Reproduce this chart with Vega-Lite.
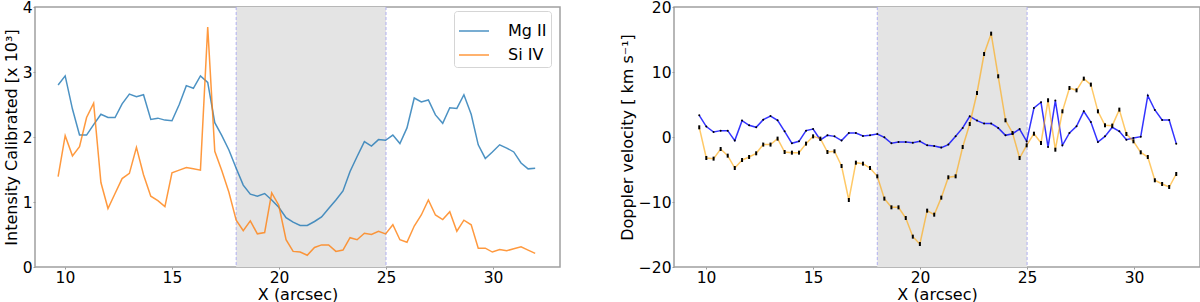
{
  "$schema": "https://vega.github.io/schema/vega-lite/v6.json",
  "padding": {"left": 2, "top": -1, "right": 0, "bottom": 0},
  "background": "white",
  "config": {
    "font": "DejaVu Sans",
    "view": {"stroke": "#a0a0a0", "strokeWidth": 1.5},
    "axis": {
      "domain": false, "grid": false, "tickColor": "#999999", "tickSize": 2,
      "labelFont": "DejaVu Sans", "labelFontSize": 15.5, "labelColor": "black", "labelPadding": 1,
      "titleFont": "DejaVu Sans", "titleFontSize": 16, "titleFontWeight": "normal", "titleColor": "black",
      "titleLimit": 500
    },
    "legend": {
      "labelFont": "DejaVu Sans", "labelFontSize": 16, "labelColor": "black"
    }
  },
  "datasets": {
    "prof": [
      {"x": 9.68, "Mg II": 2.80, "Si IV": 1.39, "vb": 3.34, "vo": 1.49},
      {"x": 10.01, "Mg II": 2.94, "Si IV": 2.02, "vb": 1.60, "vo": -3.23},
      {"x": 10.35, "Mg II": 2.43, "Si IV": 1.71, "vb": 0.77, "vo": -3.33},
      {"x": 10.68, "Mg II": 2.03, "Si IV": 1.85, "vb": 0.98, "vo": -1.85},
      {"x": 11.01, "Mg II": 2.03, "Si IV": 2.30, "vb": 0.98, "vo": -2.87},
      {"x": 11.34, "Mg II": 2.19, "Si IV": 2.52, "vb": -0.55, "vo": -4.77},
      {"x": 11.68, "Mg II": 2.35, "Si IV": 1.30, "vb": 2.52, "vo": -3.54},
      {"x": 12.01, "Mg II": 2.30, "Si IV": 0.90, "vb": 1.80, "vo": -3.08},
      {"x": 12.34, "Mg II": 2.30, "Si IV": 1.13, "vb": 1.49, "vo": -2.51},
      {"x": 12.67, "Mg II": 2.51, "Si IV": 1.36, "vb": 2.67, "vo": -1.17},
      {"x": 13.01, "Mg II": 2.66, "Si IV": 1.44, "vb": 3.23, "vo": -1.17},
      {"x": 13.34, "Mg II": 2.62, "Si IV": 1.84, "vb": 2.57, "vo": -0.25},
      {"x": 13.67, "Mg II": 2.65, "Si IV": 1.42, "vb": 0.88, "vo": -2.31},
      {"x": 14.01, "Mg II": 2.27, "Si IV": 1.09, "vb": -0.97, "vo": -2.41},
      {"x": 14.34, "Mg II": 2.29, "Si IV": 1.02, "vb": -0.66, "vo": -2.41},
      {"x": 14.67, "Mg II": 2.26, "Si IV": 0.93, "vb": 0.98, "vo": -1.02},
      {"x": 15.00, "Mg II": 2.25, "Si IV": 1.45, "vb": 1.23, "vo": 0.10},
      {"x": 15.34, "Mg II": 2.50, "Si IV": 1.49, "vb": -0.46, "vo": -0.25},
      {"x": 15.67, "Mg II": 2.79, "Si IV": 1.53, "vb": 0.26, "vo": -2.31},
      {"x": 16.00, "Mg II": 2.75, "Si IV": 1.51, "vb": 0.10, "vo": -2.20},
      {"x": 16.33, "Mg II": 2.94, "Si IV": 1.49, "vb": -0.55, "vo": -4.46},
      {"x": 16.67, "Mg II": 2.84, "Si IV": 3.69, "vb": 0.62, "vo": -9.69},
      {"x": 17.00, "Mg II": 2.22, "Si IV": 1.78, "vb": 0.62, "vo": -3.95},
      {"x": 17.33, "Mg II": 2.02, "Si IV": 1.48, "vb": 0.15, "vo": -4.10},
      {"x": 17.66, "Mg II": 1.80, "Si IV": 1.15, "vb": 0.26, "vo": -4.77},
      {"x": 18.00, "Mg II": 1.52, "Si IV": 0.72, "vb": 0.46, "vo": -6.05},
      {"x": 18.33, "Mg II": 1.26, "Si IV": 0.56, "vb": -0.05, "vo": -9.48},
      {"x": 18.66, "Mg II": 1.12, "Si IV": 0.71, "vb": -0.97, "vo": -10.82},
      {"x": 18.99, "Mg II": 1.09, "Si IV": 0.51, "vb": -0.77, "vo": -10.82},
      {"x": 19.33, "Mg II": 1.13, "Si IV": 0.53, "vb": -0.77, "vo": -12.46},
      {"x": 19.66, "Mg II": 1.03, "Si IV": 1.14, "vb": -0.87, "vo": -15.33},
      {"x": 19.99, "Mg II": 0.92, "Si IV": 0.95, "vb": -0.66, "vo": -16.46},
      {"x": 20.33, "Mg II": 0.76, "Si IV": 0.42, "vb": -1.28, "vo": -11.33},
      {"x": 20.66, "Mg II": 0.69, "Si IV": 0.24, "vb": -1.40, "vo": -11.95},
      {"x": 20.99, "Mg II": 0.64, "Si IV": 0.23, "vb": -1.63, "vo": -9.33},
      {"x": 21.32, "Mg II": 0.64, "Si IV": 0.18, "vb": -1.17, "vo": -6.20},
      {"x": 21.66, "Mg II": 0.70, "Si IV": 0.30, "vb": 0.10, "vo": -6.05},
      {"x": 21.99, "Mg II": 0.77, "Si IV": 0.34, "vb": 1.40, "vo": -1.54},
      {"x": 22.32, "Mg II": 0.90, "Si IV": 0.34, "vb": 3.18, "vo": 2.00},
      {"x": 22.66, "Mg II": 1.03, "Si IV": 0.24, "vb": 2.52, "vo": 6.77},
      {"x": 22.99, "Mg II": 1.17, "Si IV": 0.26, "vb": 2.06, "vo": 12.77},
      {"x": 23.32, "Mg II": 1.47, "Si IV": 0.45, "vb": 2.06, "vo": 15.90},
      {"x": 23.65, "Mg II": 1.70, "Si IV": 0.42, "vb": 1.39, "vo": 9.34},
      {"x": 23.99, "Mg II": 1.93, "Si IV": 0.52, "vb": 0.26, "vo": 2.57},
      {"x": 24.32, "Mg II": 1.86, "Si IV": 0.50, "vb": 0.51, "vo": 0.62},
      {"x": 24.65, "Mg II": 1.96, "Si IV": 0.55, "vb": 1.23, "vo": -3.23},
      {"x": 24.98, "Mg II": 1.95, "Si IV": 0.51, "vb": -0.66, "vo": -1.28},
      {"x": 25.32, "Mg II": 2.03, "Si IV": 0.65, "vb": 4.46, "vo": 0.51},
      {"x": 25.65, "Mg II": 1.90, "Si IV": 0.42, "vb": 5.34, "vo": -0.92},
      {"x": 25.98, "Mg II": 2.14, "Si IV": 0.38, "vb": -1.54, "vo": 5.65},
      {"x": 26.32, "Mg II": 2.60, "Si IV": 0.63, "vb": 5.60, "vo": -1.95},
      {"x": 26.65, "Mg II": 2.54, "Si IV": 0.80, "vb": -1.28, "vo": 3.95},
      {"x": 26.98, "Mg II": 2.57, "Si IV": 1.03, "vb": 0.62, "vo": 7.54},
      {"x": 27.31, "Mg II": 2.34, "Si IV": 0.80, "vb": 1.65, "vo": 7.18},
      {"x": 27.65, "Mg II": 2.21, "Si IV": 0.73, "vb": 3.95, "vo": 8.98},
      {"x": 27.98, "Mg II": 2.45, "Si IV": 0.85, "vb": 2.31, "vo": 8.06},
      {"x": 28.31, "Mg II": 2.44, "Si IV": 0.55, "vb": -0.77, "vo": 3.95},
      {"x": 28.64, "Mg II": 2.65, "Si IV": 0.72, "vb": 0.10, "vo": 1.80},
      {"x": 28.98, "Mg II": 2.35, "Si IV": 0.65, "vb": 1.49, "vo": 1.75},
      {"x": 29.31, "Mg II": 1.88, "Si IV": 0.29, "vb": 0.88, "vo": 4.21},
      {"x": 29.64, "Mg II": 1.67, "Si IV": 0.29, "vb": -0.41, "vo": 0.46},
      {"x": 29.97, "Mg II": 1.77, "Si IV": 0.23, "vb": -0.15, "vo": -0.66},
      {"x": 30.31, "Mg II": 1.88, "Si IV": 0.27, "vb": 0.05, "vo": -2.36},
      {"x": 30.64, "Mg II": 1.83, "Si IV": 0.25, "vb": 6.37, "vo": -3.08},
      {"x": 30.97, "Mg II": 1.77, "Si IV": 0.28, "vb": 4.16, "vo": -6.66},
      {"x": 31.31, "Mg II": 1.60, "Si IV": 0.31, "vb": 2.62, "vo": -7.23},
      {"x": 31.64, "Mg II": 1.51, "Si IV": 0.26, "vb": 2.62, "vo": -7.69},
      {"x": 31.97, "Mg II": 1.52, "Si IV": 0.21, "vb": -1.02, "vo": -5.69}
    ],
    "band": [{"a": 18, "b": 25}],
    "edges": [{"e": 18}, {"e": 25}]
  },
  "spacing": 57,
  "hconcat": [
    {
      "width": 525,
      "height": 260,
      "layer": [
        {
          "data": {"name": "band"},
          "mark": {"type": "rect", "color": "#e4e4e4"},
          "encoding": {
            "x": {"field": "a", "type": "quantitative", "scale": {"domain": [8.6, 33.13], "nice": false, "zero": false}},
            "x2": {"field": "b"}
          }
        },
        {
          "data": {"name": "edges"},
          "mark": {"type": "rule", "color": "#b0b0f0", "strokeDash": [3, 2], "strokeWidth": 1},
          "encoding": {
            "x": {"field": "e", "type": "quantitative"}
          }
        },
        {
          "data": {"name": "prof"},
          "transform": [{"fold": ["Mg II", "Si IV"], "as": ["series", "value"]}],
          "mark": {"type": "line", "strokeWidth": 1.5, "opacity": 0.8},
          "encoding": {
            "x": {"field": "x", "type": "quantitative", "title": "X (arcsec)", "axis": {"values": [10, 15, 20, 25, 30], "titlePadding": 1}},
            "y": {"field": "value", "type": "quantitative", "title": "Intensity Calibrated [x 10³]",
                  "scale": {"domain": [0, 4], "nice": false}, "axis": {"values": [0, 1, 2, 3, 4], "titlePadding": 3}},
            "color": {
              "field": "series", "type": "nominal",
              "scale": {"domain": ["Mg II", "Si IV"], "range": ["#1f77b4", "#ff7f0e"]},
              "legend": {
                "title": null, "orient": "none", "legendX": 419, "legendY": 4, "padding": 4,
                "strokeColor": "#d5d5d5", "fillColor": "white", "cornerRadius": 3,
                "symbolType": "stroke", "symbolSize": 900, "symbolStrokeWidth": 1.5,
                "symbolOpacity": 0.8, "rowPadding": -6, "labelOffset": 18
              }
            }
          }
        }
      ]
    },
    {
      "width": 526,
      "height": 260,
      "layer": [
        {
          "data": {"name": "band"},
          "mark": {"type": "rect", "color": "#e4e4e4"},
          "encoding": {
            "x": {"field": "a", "type": "quantitative", "scale": {"domain": [8.5, 33.08], "nice": false, "zero": false}},
            "x2": {"field": "b"}
          }
        },
        {
          "data": {"name": "edges"},
          "mark": {"type": "rule", "color": "#b0b0f0", "strokeDash": [3, 2], "strokeWidth": 1},
          "encoding": {
            "x": {"field": "e", "type": "quantitative"}
          }
        },
        {
          "data": {"name": "prof"},
          "mark": {"type": "line", "color": "#0000ff", "strokeWidth": 1.5, "opacity": 0.8},
          "encoding": {
            "x": {"field": "x", "type": "quantitative", "title": "X (arcsec)", "axis": {"values": [10, 15, 20, 25, 30], "titlePadding": 1}},
            "y": {"field": "vb", "type": "quantitative", "title": "Doppler velocity [ km s⁻¹]",
                  "scale": {"domain": [-20, 20], "nice": false}, "axis": {"values": [-20, -10, 0, 10, 20], "titlePadding": 3}}
          }
        },
        {
          "data": {"name": "prof"},
          "mark": {"type": "line", "color": "#ffa500", "strokeWidth": 1.5, "opacity": 0.6},
          "encoding": {
            "x": {"field": "x", "type": "quantitative"},
            "y": {"field": "vo", "type": "quantitative"}
          }
        },
        {
          "data": {"name": "prof"},
          "mark": {"type": "point", "filled": true, "color": "black", "size": 4, "opacity": 1},
          "encoding": {
            "x": {"field": "x", "type": "quantitative"},
            "y": {"field": "vb", "type": "quantitative"}
          }
        },
        {
          "data": {"name": "prof"},
          "mark": {"type": "tick", "orient": "vertical", "color": "black", "thickness": 2, "size": 4, "opacity": 1},
          "encoding": {
            "x": {"field": "x", "type": "quantitative"},
            "y": {"field": "vo", "type": "quantitative"}
          }
        }
      ]
    }
  ]
}
